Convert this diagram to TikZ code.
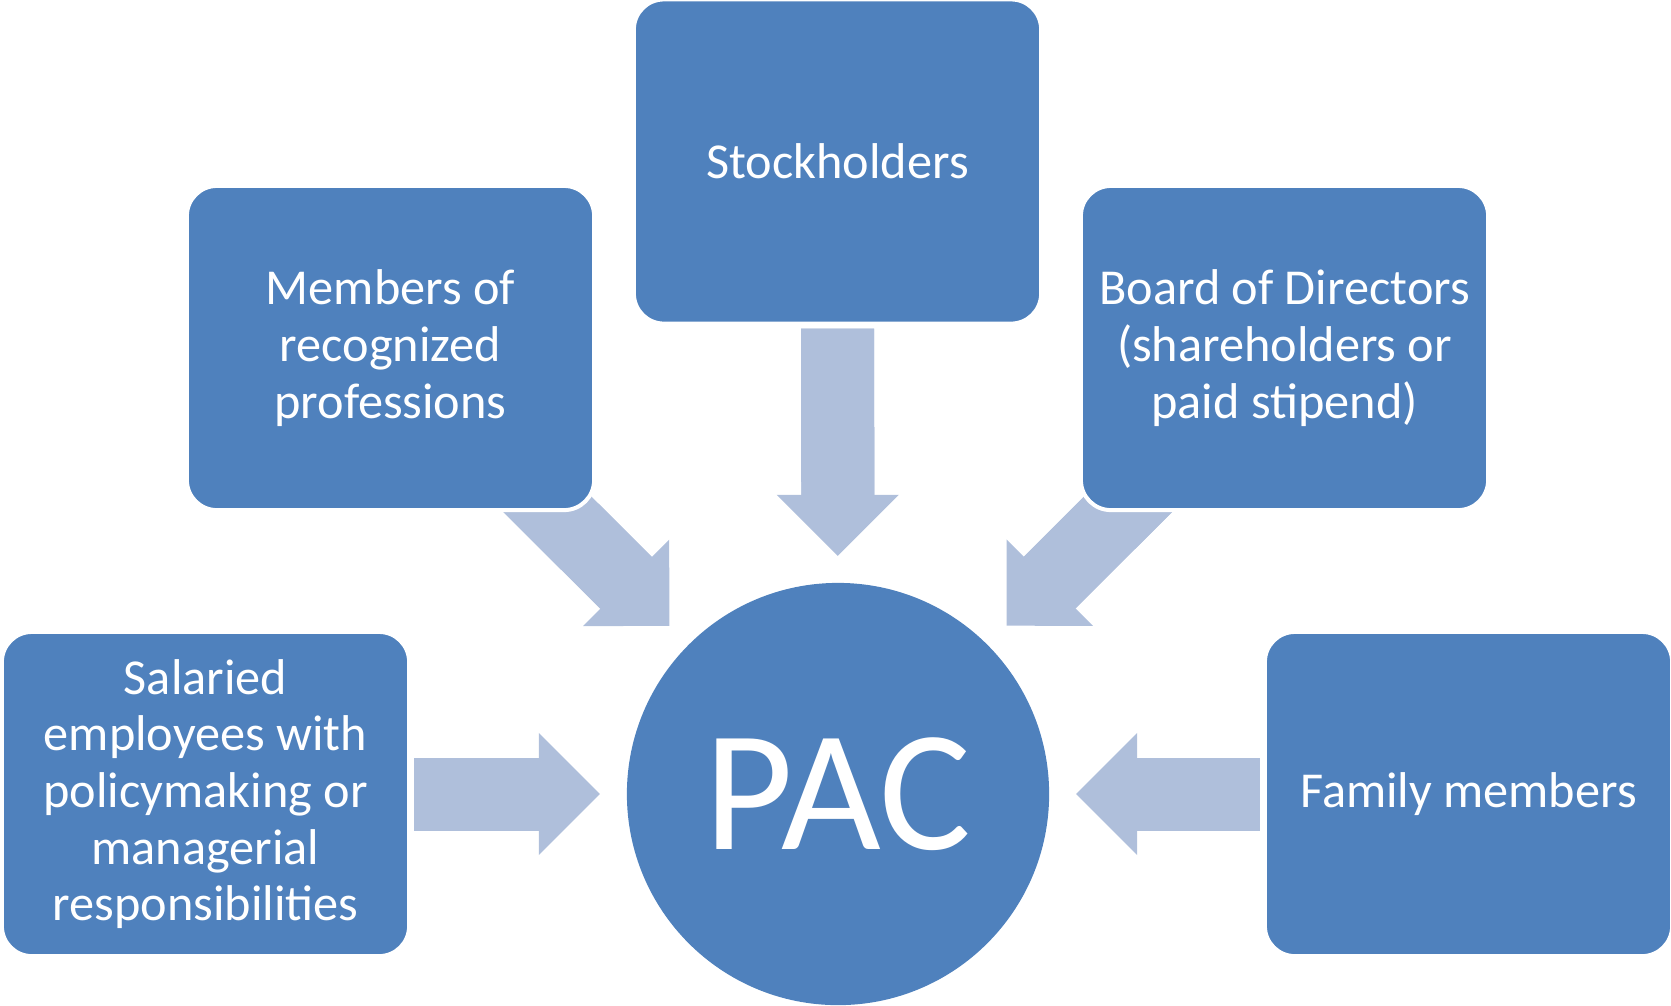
\documentclass[tikz,border=0pt]{standalone}
\usepackage{fontspec}
\setmainfont{Carlito}
\usetikzlibrary{arrows.meta}
\definecolor{boxblue}{RGB}{79,129,189}
\definecolor{arrowblue}{RGB}{175,191,219}
\pgfdeclarelayer{bg}
\pgfsetlayers{bg,main}

\begin{document}
\begin{tikzpicture}[
    x=0.01cm, y=-0.01cm,
    grp/.style={rectangle, rounded corners=0.3cm, draw=white, line width=0.04cm, fill=boxblue, text=white,
        minimum width=4.07cm, minimum height=3.24cm, inner sep=0pt, outer sep=0pt,
        align=center, font=\fontsize{14.3}{16.1}\selectfont},
    hub/.style={circle, fill=boxblue, text=white, minimum size=4.22cm, inner sep=0pt, outer sep=0pt,
        font=\fontsize{49}{50}\selectfont},
    flow/.style={draw=arrowblue, line width=0.73cm, shorten <=0.05cm, shorten >=0.27cm,
        -{Triangle[width=1.22cm, length=0.61cm, line width=0pt, fill=arrowblue]},
        preaction={draw=arrowblue, line width=0.73cm, -, shorten >=0.84cm}}
]
\useasboundingbox (0,0) rectangle (1671,1005);
% PAC in the middle
\node[hub] (pac) at (838,794) {PAC};
% the five groups round it
\node[grp] (stock) at (837.5,161.5) {Stockholders};
\node[grp] (memb) at (390.5,348) {Members of\\recognized\\professions};
\node[grp] (board) at (1284.5,348) {Board of Directors\\(shareholders or\\paid stipend)};
\node[grp] (salar) at (205.5,794) {Salaried\\employees with\\policymaking or\\managerial\\responsibilities};
\node[grp] (family) at (1468.5,794) {Family members};
% block arrows, behind the boxes
\begin{pgfonlayer}{bg}
\foreach \src in {memb, board}
    \draw[flow] (\src.center) -- (pac);
\foreach \src in {stock, salar, family}
    \draw[flow] (\src) -- (pac);
\end{pgfonlayer}
\end{tikzpicture}
\end{document}
